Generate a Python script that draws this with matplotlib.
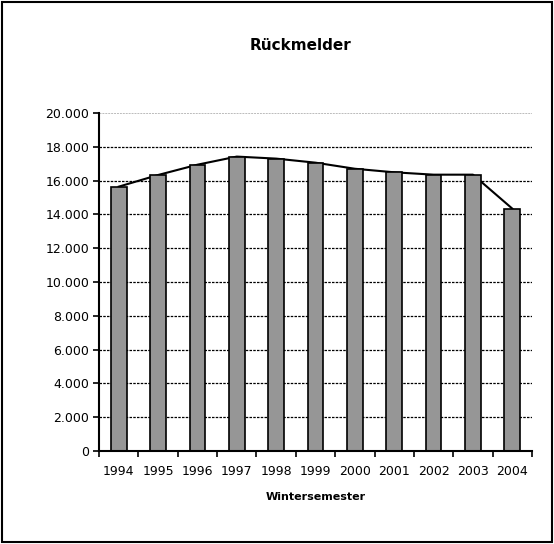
import matplotlib
matplotlib.use('Agg')
import matplotlib.pyplot as plt
import numpy as np
from matplotlib.patches import Rectangle
from matplotlib.ticker import FuncFormatter

years = ['1994', '1995', '1996', '1997', '1998', '1999', '2000', '2001', '2002', '2003', '2004']
rueckmelder = [15640, 16330, 16940, 17420, 17300, 17060, 16700, 16490, 16350, 16350, 14340]
yticks = [0, 2000, 4000, 6000, 8000, 10000, 12000, 14000, 16000, 18000, 20000]

fig = plt.figure(figsize=(5.54, 5.44), dpi=100)
ax = fig.add_axes([0.1787, 0.1710, 0.7816, 0.6213])

x = np.arange(len(years))
# gridlines
for v in yticks[1:-1]:
    ax.axhline(v, color='black', lw=0.9, ls=(0, (2, 1)), zorder=1)
ax.axhline(20000, color='#bbbbbb', lw=0.7, ls=(0, (2, 1)), zorder=1)

ax.plot(x, rueckmelder, color='black', lw=1.5, zorder=2)
ax.bar(x, rueckmelder, width=0.4, color='#969696', edgecolor='black', lw=1.2, zorder=3)

ax.set_xlim(-0.5, len(years) - 0.5)
ax.set_ylim(0, 20000)
ax.set_yticks(yticks)
ax.yaxis.set_major_formatter(FuncFormatter(lambda v, p: '{:,}'.format(int(v)).replace(',', '.')))
ax.set_xticks(x)
ax.set_xticklabels(years)
ax.set_xticks(np.arange(-0.5, len(years)), minor=True)
ax.tick_params(axis='x', which='major', length=0, pad=10, labelsize=9)
ax.tick_params(axis='x', which='minor', length=4, width=1.2, direction='out')
ax.tick_params(axis='y', length=4, width=1.2, direction='out', labelsize=9, pad=3)

for s in ['top', 'right']:
    ax.spines[s].set_visible(False)
for s in ['left', 'bottom']:
    ax.spines[s].set_linewidth(1.5)
    ax.spines[s].set_zorder(5)

ax.set_xlabel('Wintersemester', fontsize=8, fontweight='bold', labelpad=10)
fig.text(0.5433, 0.917, 'Rückmelder', ha='center', va='center', fontsize=11, fontweight='bold')

fig.patches.append(Rectangle((0.003, 0.003), 0.994, 0.994, transform=fig.transFigure,
                             fill=False, edgecolor='black', lw=1.5))

fig.savefig('out.png', dpi=100)
